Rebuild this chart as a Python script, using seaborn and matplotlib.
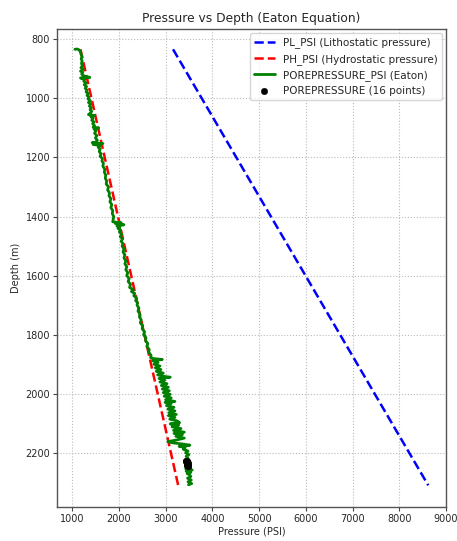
import matplotlib
matplotlib.use("Agg")
import matplotlib.pyplot as plt
import seaborn as sns

# Straight reference lines (endpoints)
depth_line = [834, 2310]
pl_psi = [3160, 8620]
ph_psi = [1180, 3270]

# Eaton pore pressure trace: (depth m, pressure psi)
pp_trace = [
    (834, 1060), (833, 1110), (836, 1150), (842, 1175), (850, 1190), (858, 1210), (866, 1195), (874, 1215),
    (882, 1200), (890, 1225), (896, 1190), (902, 1240), (908, 1180), (912, 1230), (918, 1205), (924, 1250),
    (929, 1380), (931, 1180), (936, 1270), (942, 1250), (948, 1300), (954, 1260), (960, 1310), (966, 1280),
    (972, 1320), (978, 1300), (984, 1345), (990, 1320), (996, 1360), (1002, 1340), (1008, 1390), (1014, 1350),
    (1020, 1400), (1026, 1370), (1032, 1410), (1038, 1385), (1044, 1420), (1050, 1390), (1055, 1350),
    (1058, 1480), (1062, 1400), (1068, 1450), (1074, 1420), (1080, 1470), (1086, 1440), (1092, 1480),
    (1098, 1450), (1100, 1570), (1104, 1470), (1110, 1510), (1118, 1480), (1126, 1530), (1134, 1500),
    (1142, 1540), (1148, 1510), (1150, 1430), (1153, 1660), (1156, 1450), (1160, 1610), (1166, 1560),
    (1172, 1600), (1180, 1580), (1188, 1620), (1196, 1600), (1204, 1650), (1212, 1640), (1220, 1670),
    (1230, 1660), (1240, 1700), (1250, 1690), (1260, 1720), (1270, 1710), (1280, 1740), (1290, 1730),
    (1300, 1780), (1310, 1760), (1320, 1800), (1330, 1790), (1340, 1830), (1350, 1810), (1360, 1850),
    (1370, 1830), (1380, 1870), (1390, 1860), (1400, 1890), (1410, 1880), (1418, 1870), (1421, 2050),
    (1424, 1930), (1428, 2110), (1432, 1960), (1436, 2020), (1440, 1980), (1446, 2040), (1452, 2010),
    (1460, 2060), (1468, 2030), (1476, 2080), (1484, 2050), (1492, 2090), (1500, 2070), (1510, 2110),
    (1520, 2090), (1530, 2130), (1540, 2110), (1550, 2150), (1560, 2130), (1570, 2170), (1580, 2150),
    (1590, 2190), (1600, 2170), (1610, 2220), (1620, 2200), (1630, 2250), (1640, 2230), (1648, 2310),
    (1654, 2270), (1660, 2340), (1668, 2320), (1676, 2380), (1684, 2360), (1692, 2400), (1700, 2390),
    (1710, 2430), (1720, 2410), (1730, 2450), (1740, 2440), (1750, 2480), (1760, 2460), (1770, 2510),
    (1780, 2500), (1790, 2550), (1800, 2530), (1810, 2580), (1820, 2570), (1830, 2620), (1840, 2600),
    (1850, 2650), (1860, 2640), (1870, 2690), (1878, 2680), (1881, 2750), (1884, 2930), (1888, 2720),
    (1894, 2840), (1900, 2750), (1906, 2880), (1912, 2780), (1918, 2900), (1924, 2800), (1930, 2950),
    (1936, 2830), (1941, 2960), (1944, 3100), (1948, 2860), (1954, 2980), (1960, 2880), (1966, 3030),
    (1972, 2910), (1978, 3060), (1984, 2930), (1990, 3080), (1996, 2950), (2002, 3100), (2008, 2970),
    (2014, 3120), (2020, 3000), (2026, 3200), (2029, 2990), (2033, 3120), (2040, 3020), (2046, 3180),
    (2052, 3050), (2058, 3200), (2064, 3070), (2070, 3230), (2074, 3060), (2080, 3200), (2086, 3090),
    (2092, 3250), (2098, 3300), (2102, 3100), (2106, 3280), (2112, 3140), (2118, 3330), (2124, 3170),
    (2130, 3400), (2134, 3180), (2138, 3360), (2144, 3220), (2150, 3400), (2156, 3250), (2162, 3050),
    (2166, 3150), (2170, 3360), (2174, 3520), (2178, 3290), (2182, 3420), (2188, 3380), (2194, 3480),
    (2200, 3430), (2206, 3500), (2212, 3440), (2218, 3480), (2224, 3460), (2240, 3500), (2248, 3520),
    (2254, 3430), (2258, 3570), (2262, 3440), (2266, 3540), (2270, 3460), (2274, 3510), (2280, 3540),
    (2286, 3470), (2292, 3550), (2298, 3480), (2304, 3560), (2308, 3490),
]
pp_depth = [d for d, p in pp_trace]
pp_psi = [p for d, p in pp_trace]

# 16 measured pore pressure points
pts_depth = [2226, 2228, 2229, 2231, 2232, 2233, 2234, 2235, 2236, 2237, 2238, 2239, 2240, 2241, 2243, 2245]
pts_psi = [3440, 3455, 3445, 3460, 3450, 3465, 3448, 3458, 3470, 3452, 3462, 3475, 3457, 3468, 3472, 3478]

sns.set_style("white")
plt.rcParams['font.family'] = ['DejaVu Sans']

fig = plt.figure(figsize=(4.57, 5.41), dpi=100)
ax = fig.add_axes([0.125, 0.063, 0.851, 0.883])

sns.lineplot(x=pl_psi, y=depth_line, ax=ax, color='blue', linestyle='--', linewidth=1.8,
             label='PL_PSI (Lithostatic pressure)', sort=False, estimator=None)
sns.lineplot(x=ph_psi, y=depth_line, ax=ax, color='red', linestyle='--', linewidth=1.8,
             label='PH_PSI (Hydrostatic pressure)', sort=False, estimator=None)
sns.lineplot(x=pp_psi, y=pp_depth, ax=ax, color='green', linewidth=2.0,
             label='POREPRESSURE_PSI (Eaton)', sort=False, estimator=None)
sns.scatterplot(x=pts_psi, y=pts_depth, ax=ax, color='black', s=22, edgecolor='black', linewidth=0.3,
                label='POREPRESSURE (16 points)', zorder=5)

ax.set_xlim(680, 9000)
ax.set_ylim(2383, 766)
ax.set_xticks(range(1000, 9001, 1000))
ax.set_yticks(range(800, 2201, 200))
ax.grid(True, linestyle=':', color='#bbbbbb', linewidth=0.8)
ax.tick_params(axis='both', labelsize=7, length=3, width=0.8, color='#444444', direction='out',
               bottom=True, left=True, pad=2)
for s in ax.spines.values():
    s.set_color('#555555')
    s.set_linewidth(1.0)
ax.set_xlabel('Pressure (PSI)', fontsize=7, labelpad=2)
ax.set_ylabel('Depth (m)', fontsize=7, labelpad=3)
ax.set_title('Pressure vs Depth (Eaton Equation)', fontsize=8.8, pad=5)
leg = ax.legend(loc='upper right', fontsize=7.5, frameon=True, handlelength=2.0, borderaxespad=0.4)

fig.savefig('out.png', dpi=100)
